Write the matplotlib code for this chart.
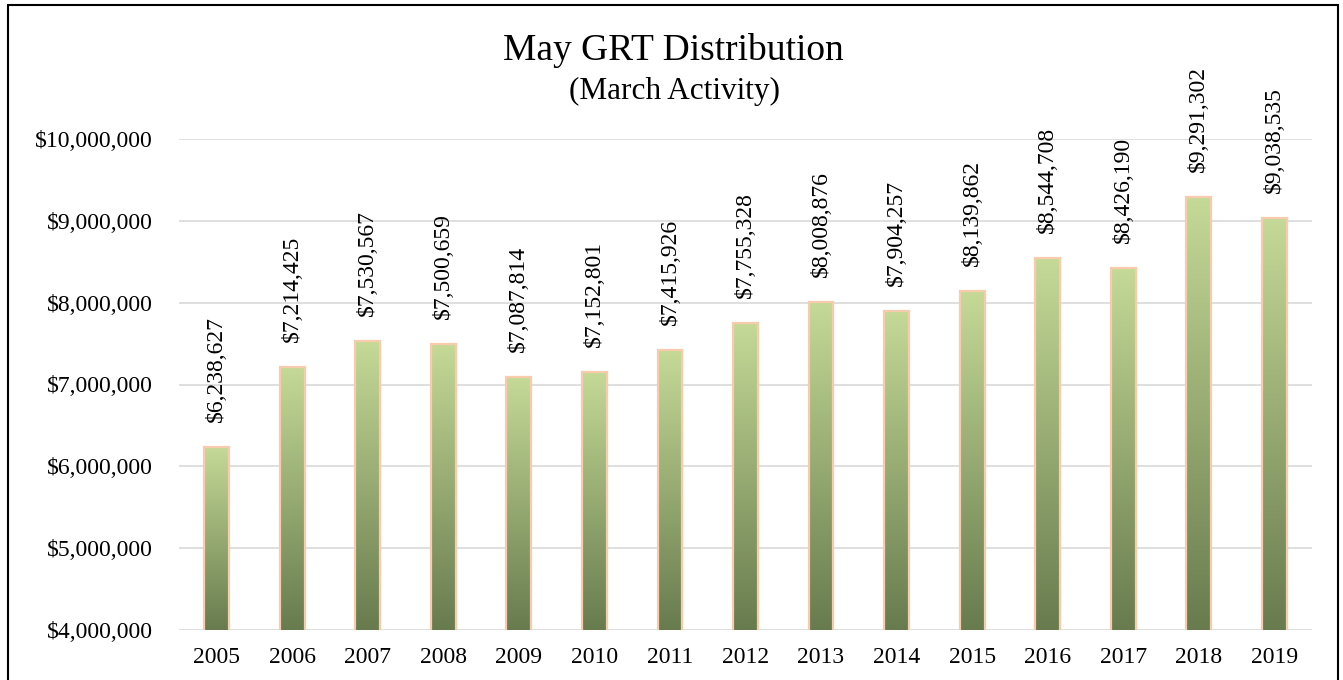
import numpy as np
import matplotlib.pyplot as plt
from matplotlib.colors import LinearSegmentedColormap
from matplotlib.patches import Rectangle
from matplotlib.ticker import FuncFormatter

years = ['2005', '2006', '2007', '2008', '2009', '2010', '2011', '2012',
         '2013', '2014', '2015', '2016', '2017', '2018', '2019']
distribution = [6238627, 7214425, 7530567, 7500659, 7087814, 7152801, 7415926,
                7755328, 8008876, 7904257, 8139862, 8544708, 8426190, 9291302,
                9038535]

plt.rcParams['font.family'] = ['Liberation Serif', 'DejaVu Serif']

W, H = 1343, 680
fig = plt.figure(figsize=(W / 100, H / 100), dpi=100)
ax = fig.add_axes([179 / W, 1 - 630 / H, (1312 - 179) / W, (630 - 139) / H])

ymin, ymax = 4000000, 10000000
x = np.arange(len(years))
bars = ax.bar(x, distribution, width=0.33, bottom=0, facecolor='none',
              edgecolor='#F8CBAD', linewidth=1.6, zorder=3)

# vertical gradient inside each bar, light on top, dark at the base
cmap = LinearSegmentedColormap.from_list('grt', ['#687B4E', '#C5DA97'])
grad = np.linspace(0, 1, 256).reshape(-1, 1)
for b in bars:
    x0 = b.get_x()
    img = ax.imshow(grad, extent=[x0, x0 + b.get_width(), ymin, b.get_height()],
                    origin='lower', aspect='auto', cmap=cmap, zorder=2,
                    interpolation='bilinear')
    img.set_clip_path(b)

for xi, v in zip(x, distribution):
    ax.annotate(f'${v:,.0f}', (xi, v), xytext=(0, 18), textcoords='offset points',
                rotation=90, ha='center', va='bottom', fontsize=17, zorder=4)

ax.set_xlim(-0.5, len(years) - 0.5)
ax.set_ylim(ymin, ymax)
ax.set_xticks(x)
ax.set_xticklabels(years)
ax.set_yticks(np.arange(ymin, ymax + 1, 1000000))
ax.yaxis.set_major_formatter(FuncFormatter(lambda v, p: f'${v:,.0f}'))
ax.tick_params(axis='both', length=0, labelsize=17)
ax.tick_params(axis='y', pad=19)
ax.tick_params(axis='x', pad=12)
ax.yaxis.grid(True, color='#D9D9D9', linewidth=1.2)
ax.set_axisbelow(True)
for s in ax.spines.values():
    s.set_visible(False)

fig.text(673 / W, 1 - 60 / H, 'May GRT Distribution', ha='center',
         va='baseline', fontsize=27)
fig.text(675 / W, 1 - 99 / H, '(March Activity)', ha='center',
         va='baseline', fontsize=22.5)

fig.patches.append(Rectangle((8 / W, -0.01), (1338 - 8) / W, 1 - 5 / H + 0.01,
                             transform=fig.transFigure, fill=False,
                             edgecolor='black', linewidth=1.5))

fig.savefig('out.png', dpi=100)
